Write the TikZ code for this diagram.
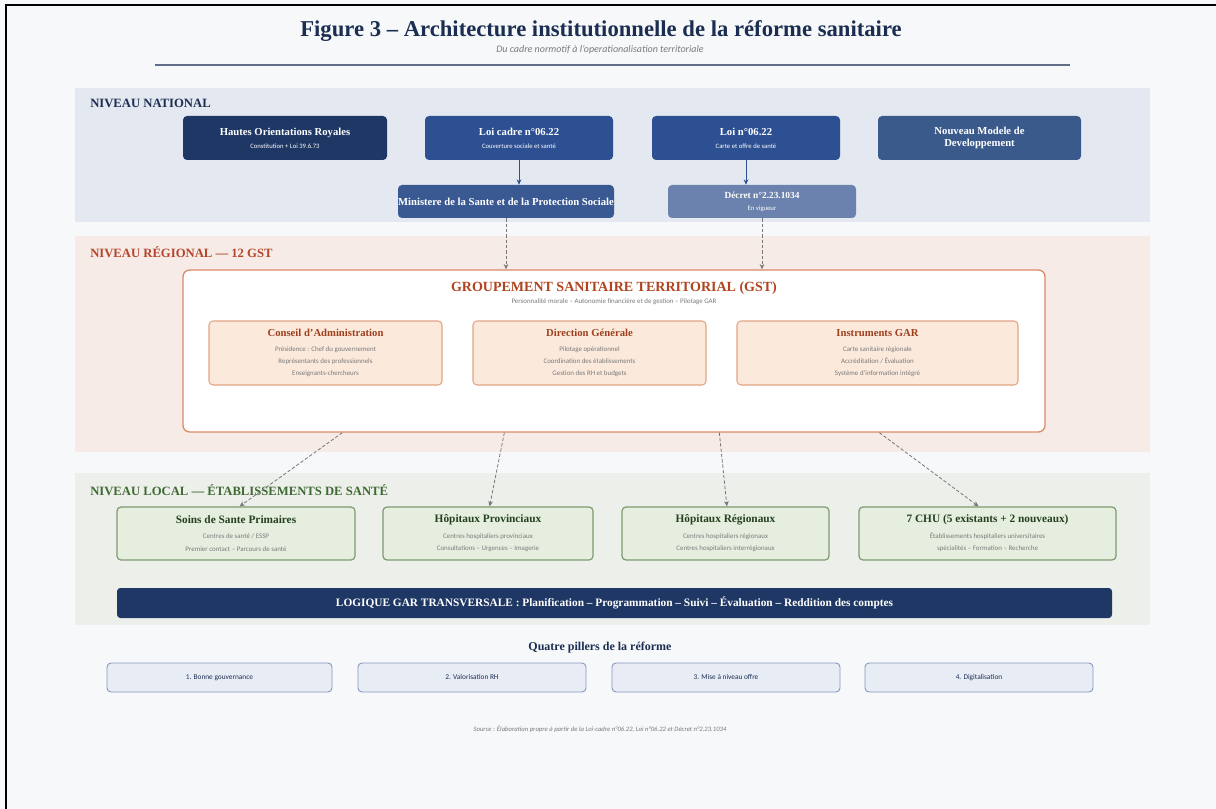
\documentclass[tikz,border=0pt]{standalone}
\usepackage{fontspec}
\setmainfont{Liberation Serif}
\setsansfont{Carlito}
\usetikzlibrary{arrows.meta}

\definecolor{pagebg}{HTML}{F7F8FA}
\definecolor{titlec}{HTML}{1B2E52}
\definecolor{navyA}{HTML}{1E3764}
\definecolor{navyB}{HTML}{2C5091}
\definecolor{navyC}{HTML}{3B5A8C}
\definecolor{navyD}{HTML}{3A5992}
\definecolor{navyE}{HTML}{6A82AD}
\definecolor{natband}{HTML}{E4E8F1}
\definecolor{regband}{HTML}{F6EBE7}
\definecolor{regtxt}{HTML}{B5452A}
\definecolor{gstline}{HTML}{D98A66}
\definecolor{gsttxt}{HTML}{B0441F}
\definecolor{subfill}{HTML}{FBE9DC}
\definecolor{subline}{HTML}{E2A585}
\definecolor{subtxt}{HTML}{9E3F1E}
\definecolor{locband}{HTML}{EDEFEB}
\definecolor{loctxt}{HTML}{3F6B33}
\definecolor{locfill}{HTML}{E6EFDF}
\definecolor{locline}{HTML}{7D9A70}
\definecolor{locttl}{HTML}{24401F}
\definecolor{pilfill}{HTML}{E8ECF5}
\definecolor{pilline}{HTML}{8797BD}
\definecolor{greytxt}{HTML}{7A7A7A}
\definecolor{dashc}{HTML}{777777}

% box placed by its pixel corners
\newcommand{\pbox}[7]{%
  \pgfmathsetmacro{\myBW}{(#4-#2)*0.75}%
  \pgfmathsetmacro{\myBH}{(#5-#3)*0.75}%
  \node[#6, minimum width=\myBW pt, minimum height=\myBH pt] (#1) at ({(#2+#4)/2},{(#3+#5)/2}) {#7};}

\newcommand{\fs}[1]{\fontsize{#1}{#1}\selectfont}

\tikzset{
  base/.style={rounded corners=3pt, inner sep=0pt, align=center},
  natbox/.style={base, text=white, font=\bfseries\fs{8}},
  regbox/.style={base, fill=subfill, draw=subline, line width=0.8pt, text=subtxt, font=\bfseries\fs{8}},
  locbox/.style={base, fill=locfill, draw=locline, line width=0.9pt, text=locttl, font=\bfseries\fs{8.5}},
  pilbox/.style={base, fill=pilfill, draw=pilline, line width=0.7pt, text=titlec, font=\sffamily\fs{5.5}, text height=4pt, text depth=1pt},
  lvl/.style={anchor=west, inner sep=0pt, font=\bfseries\fs{9.5}},
  solidarr/.style={draw=navyB, line width=0.7pt, -{Stealth[length=4pt,width=3.5pt]}},
  dasharr/.style={draw=dashc, line width=0.6pt, dash pattern=on 2.5pt off 1.5pt, -{Stealth[length=4pt,width=3.5pt]}},
}

\newcommand{\sub}[1]{\\[2pt]{\normalfont\sffamily\fs{5}#1}}
\newcommand{\gl}[1]{{\normalfont\sffamily\fs{5.2}\color{greytxt}#1}}

\begin{document}
\begin{tikzpicture}[x=0.75pt,y=-0.75pt]
\useasboundingbox (0,0) rectangle (1216,809);
\fill[pagebg] (0,0) rectangle (1216,809);
\draw[line width=1.4pt] (6,809) -- (6,5) -- (1216,5);

% heading
\node[text=titlec, font=\bfseries\fs{17}, inner sep=0pt] (title) at (601,31) {Figure 3 -- Architecture institutionnelle de la réforme sanitaire};
\node[text=greytxt, font=\sffamily\itshape\fs{7.5}, inner sep=0pt] (subtitle) at (600,50) {Du cadre normotif à l'operationalisation territoriale};
\draw[draw=titlec!70, line width=0.8pt] (155,65) -- (1070,65);

% ---------- national level ----------
\fill[natband] (75,88) rectangle (1150,222);
\node[lvl, text=titlec] (lvlnat) at (90,103) {NIVEAU NATIONAL};

\pbox{hor}{183}{116}{387}{160}{natbox, fill=navyA}{Hautes Orientations Royales\sub{Constitution + Loi 39.6.73}}
\pbox{loicadre}{425}{116}{613}{160}{natbox, fill=navyB}{Loi cadre n°06.22\sub{Couverture sociale et santé}}
\pbox{loi}{652}{116}{840}{160}{natbox, fill=navyB}{Loi n°06.22\sub{Carte et offre de santé}}
\pbox{nmd}{878}{116}{1081}{160}{natbox, fill=navyC}{Nouveau Modele de\\[1pt]Developpement}
\pbox{min}{398}{185}{614}{218}{natbox, fill=navyD}{Ministere de la Sante et de la Protection Sociale}
\pbox{dec}{668}{185}{856}{218}{natbox, fill=navyE, font=\bfseries\fs{7}}{Décret n°2.23.1034\sub{En vigueur}}

\draw[solidarr] (loicadre.south) -- (loicadre.south |- min.north);
\draw[solidarr] (loi.south) -- (loi.south |- dec.north);

% ---------- regional level ----------
\fill[regband] (75,236) rectangle (1150,452);
\node[lvl, text=regtxt] (lvlreg) at (90,252) {NIVEAU RÉGIONAL — 12 GST};

\pbox{gst}{183}{270}{1045}{432}{base, fill=white, draw=gstline, line width=1pt, rounded corners=5pt}{}
\node[text=gsttxt, font=\bfseries\fs{10.5}, inner sep=0pt] (gsttitle) at (614,288) {GROUPEMENT SANITAIRE TERRITORIAL (GST)};
\node[inner sep=0pt] (gstsub) at (614,302) {\gl{Personnalité morale -- Autonomie financière et de gestion -- Pilotage GAR}};

\pbox{ca}{209}{321}{442}{385}{regbox}{Conseil d'Administration\\[3pt]\gl{Présidence : Chef du gouvernement}\\[1pt]\gl{Représentants des professionnels}\\[1pt]\gl{Enseignants-chercheurs}}
\pbox{dg}{473}{321}{706}{385}{regbox}{Direction Générale\\[3pt]\gl{Pilotage opérationnel}\\[1pt]\gl{Coordination des établissements}\\[1pt]\gl{Gestion des RH et budgets}}
\pbox{gar}{737}{321}{1018}{385}{regbox}{Instruments GAR\\[3pt]\gl{Carte sanitaire régionale}\\[1pt]\gl{Accréditation / Évaluation}\\[1pt]\gl{Système d'information intégré}}

\draw[dasharr] (min.south) -- (min.south |- gst.north);
\draw[dasharr] (dec.south) -- (dec.south |- gst.north);

% ---------- local level ----------
\fill[locband] (75,473) rectangle (1150,625);
\node[lvl, text=loctxt] (lvlloc) at (90,490) {NIVEAU LOCAL — ÉTABLISSEMENTS DE SANTÉ};

\pbox{ssp}{117}{507}{355}{560}{locbox}{Soins de Sante Primaires\\[3pt]\gl{Centres de santé / ESSP}\\[1pt]\gl{Premier contact -- Parcours de santé}}
\pbox{hp}{383}{507}{593}{560}{locbox}{Hôpitaux Provinciaux\\[3pt]\gl{Centres hospitaliers provinciaux}\\[1pt]\gl{Consultations -- Urgences -- Imagerie}}
\pbox{hr}{622}{507}{829}{560}{locbox}{Hôpitaux Régionaux\\[3pt]\gl{Centres hospitaliers régionaux}\\[1pt]\gl{Centres hospitaliers interrégionaux}}
\pbox{chu}{859}{507}{1116}{560}{locbox}{7 CHU (5 existants + 2 nouveaux)\\[3pt]\gl{Établissements hospitaliers universitaires}\\[1pt]\gl{spécialités -- Formation -- Recherche}}

\draw[dasharr] ([xshift=120pt]gst.south west) -- ([xshift=-87pt]ssp.north east);
\draw[dasharr] ([xshift=241.5pt]gst.south west) -- ([xshift=-78pt]hp.north east);
\draw[dasharr] ([xshift=402.75pt]gst.south west) -- ([xshift=-77pt]hr.north east);
\draw[dasharr] ([xshift=522.75pt]gst.south west) -- ([xshift=-103.5pt]chu.north east);

\pbox{garbar}{117}{588}{1112}{618}{base, fill=navyA, text=white, font=\bfseries\fs{8.5}, rounded corners=2.5pt}{LOGIQUE GAR TRANSVERSALE : Planification -- Programmation -- Suivi -- Évaluation -- Reddition des comptes}

% ---------- pillars ----------
\node[text=titlec, font=\bfseries\fs{9}, inner sep=0pt] (piltitle) at (600,648) {Quatre pillers de la réforme};
\pbox{p1}{107}{663}{332}{692}{pilbox}{1. Bonne gouvernance}
\pbox{p2}{358}{663}{586}{692}{pilbox}{2. Valorisation RH}
\pbox{p3}{612}{663}{840}{692}{pilbox}{3. Mise à niveau offre}
\pbox{p4}{865}{663}{1093}{692}{pilbox}{4. Digitalisation}

\node[text=greytxt, font=\sffamily\itshape\fs{5}, inner sep=0pt] (source) at (600,729) {Source : Élaboration propre à partir de la Loi-cadre n°06.22, Loi n°06.22 et Décret n°2.23.1034};
\end{tikzpicture}
\end{document}
